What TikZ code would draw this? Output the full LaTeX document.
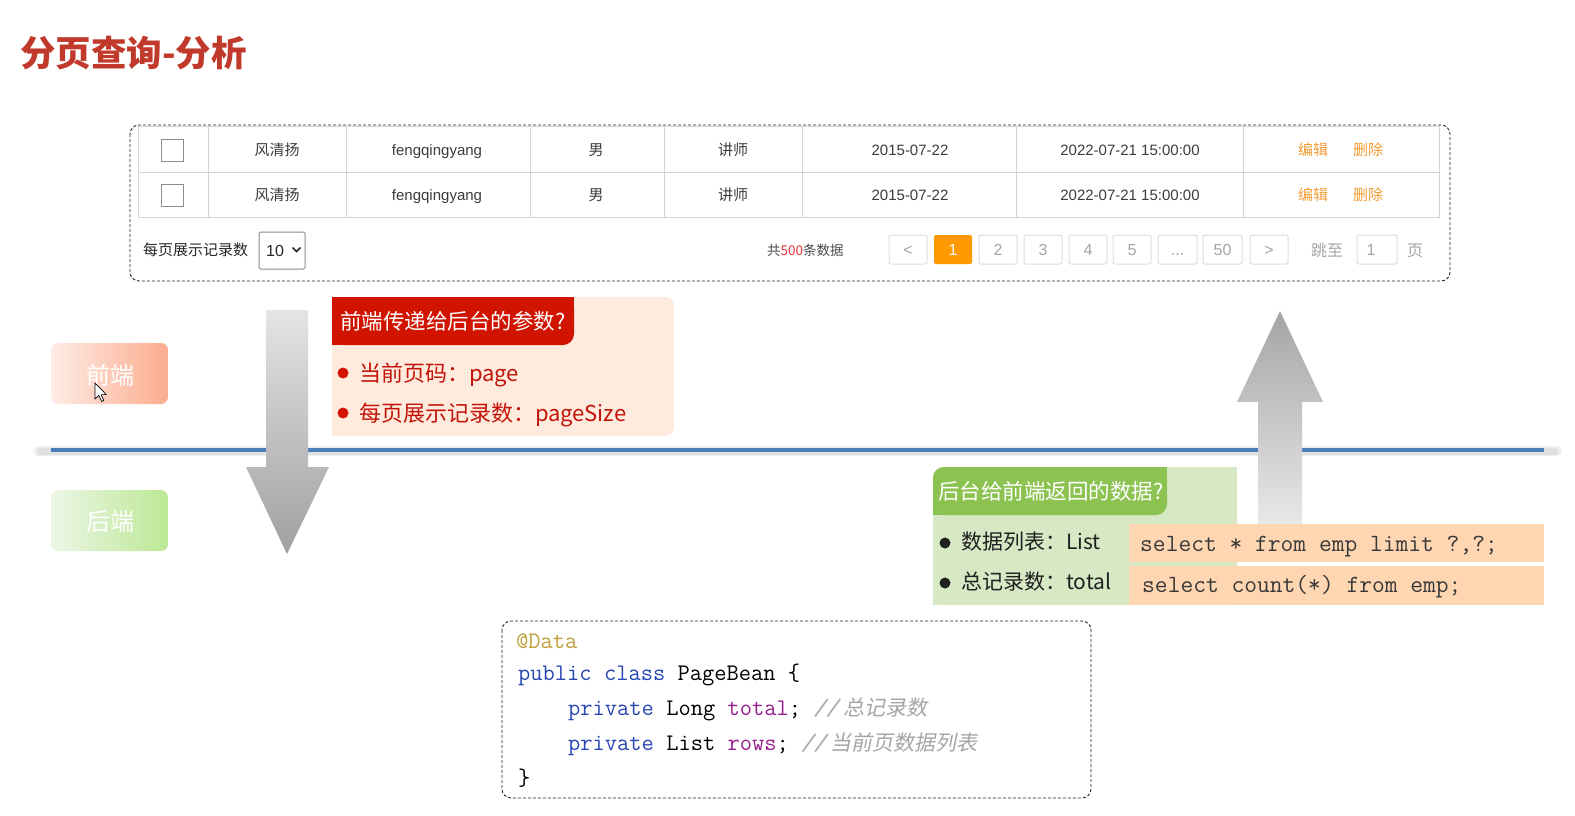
\documentclass[tikz,border=0pt]{standalone}
\usepackage{fontspec}
\setmainfont{Liberation Sans}
\setmonofont{Latin Modern Mono}
\newfontfamily\cjk{Noto Sans CJK SC}
\newfontfamily\cjkit{Noto Sans CJK SC}[FakeSlant=0.2]
\newcommand\fsz[1]{\fontsize{#1}{#1}\selectfont}
\definecolor{titlered}{RGB}{192,57,43}
\definecolor{tabline}{RGB}{212,212,212}
\definecolor{tabtext}{RGB}{60,60,60}
\definecolor{opor}{RGB}{242,156,52}
\definecolor{pggray}{RGB}{165,165,165}
\definecolor{pgborder}{RGB}{221,221,221}
\definecolor{pgorange}{RGB}{255,153,0}
\definecolor{numred}{RGB}{230,50,50}
\definecolor{blueline}{RGB}{74,126,187}
\definecolor{redhead}{RGB}{208,20,0}
\definecolor{redbg}{RGB}{255,234,222}
\definecolor{redtext}{RGB}{195,20,10}
\definecolor{greenhead}{RGB}{140,195,80}
\definecolor{greenbg}{RGB}{214,233,196}
\definecolor{sqlbg}{RGB}{255,214,178}
\definecolor{codeblue}{RGB}{40,70,180}
\definecolor{codepurple}{RGB}{150,30,140}
\definecolor{codegold}{RGB}{190,160,60}
\definecolor{codegray}{RGB}{165,165,165}
\tikzset{
  tx/.style={inner sep=0pt, text height=0.9*#1pt, text depth=0.15*#1pt, font=\fsz{#1}},
  pgbtn/.style={draw=pgborder, line width=1pt, rounded corners=2pt},
  dashbox/.style={draw=black!85, line width=0.9pt, dash pattern=on 3pt off 2pt, rounded corners=9pt},
}
\begin{document}
\begin{tikzpicture}[x=1pt,y=-1pt]
\useasboundingbox (0,0) rectangle (1575,815);
\fill[white] (0,0) rectangle (1575,815);

% title
\node[tx=35.5, anchor=west, text=titlered] (title) at (20,53) {\cjk\bfseries 分页查询-分析};

% outer dashed box
\draw[dashbox] (130,125) rectangle (1450,281);

% table
\draw[tabline, line width=1pt] (138,126) rectangle (1439,217);
\draw[tabline, line width=1pt] (138,172) -- (1439,172);
\foreach \cx in {208,346,530,664,802,1016,1243}
  \draw[tabline, line width=1pt] (\cx,126) -- (\cx,217);
\foreach \ry/\rn in {150/a,195/b}{
  \draw[draw=black!45, line width=1pt] (161,\ry-11) rectangle (183,\ry+11);
  \node[tx=15, text=tabtext] (name\rn) at (277,\ry) {\cjk 风清扬};
  \node[tx=15, text=tabtext] (user\rn) at (437,\ry) {fengqingyang};
  \node[tx=15, text=tabtext] (gender\rn) at (596,\ry) {\cjk 男};
  \node[tx=15, text=tabtext] (job\rn) at (733,\ry) {\cjk 讲师};
  \node[tx=15, text=tabtext] (date\rn) at (910,\ry) {2015-07-22};
  \node[tx=15, text=tabtext] (time\rn) at (1130,\ry) {2022-07-21 15:00:00};
  \node[tx=15, text=opor] (edit\rn) at (1313,\ry) {\cjk 编辑};
  \node[tx=15, text=opor] (del\rn) at (1368,\ry) {\cjk 删除};
}

% pagination row
\node[tx=15, anchor=west, text=black!85] (perpage) at (143,250) {\cjk 每页展示记录数};
\draw[draw=black!45, line width=1pt, rounded corners=1.5pt] (259,232) rectangle (305,269);
\node[tx=16, anchor=west, text=black!85] (sel) at (266,250) {10};
\draw[black!85, line width=1.6pt] (292.5,247.5) -- (296.5,251.5) -- (300.5,247.5);
\node[tx=13.5, anchor=west, text=black!70] (total) at (767,250) {\cjk 共\textcolor{numred}{500}条数据};
\foreach \xa/\xb/\lb/\nm in {889/927/{<}/prev,979/1017/2/p2,1024/1062/3/p3,1069/1107/4/p4,1113/1151/5/p5,1158/1197/{...}/dots,1203/1242/50/p50,1250/1288/{>}/next}{
  \draw[pgbtn] (\xa,235) rectangle (\xb,264);
  \node[tx=16, text=pggray] (\nm) at ({(\xa+\xb)/2},249.5) {\lb};
}
\fill[pgorange, rounded corners=2pt] (934,235) rectangle (972,264);
\node[tx=16, text=white] (p1) at (953,249.5) {1};
\node[tx=16, text=pggray] (jump) at (1327,250) {\cjk 跳至};
\draw[pgbtn] (1357,235) rectangle (1397,264);
\node[tx=16, text=pggray] (jumpv) at (1371,249.5) {1};
\node[tx=16, text=pggray] (ye) at (1415,250) {\cjk 页};

% front / back labels
\shade[left color={rgb,255:red,255;green,236;blue,230}, right color={rgb,255:red,251;green,172;blue,142}, rounded corners=7pt] (51,343) rectangle (168,404);
\node[tx=24, text=white] (front) at (110,375) {\cjk 前端};
\shade[left color={rgb,255:red,236;green,246;blue,230}, right color={rgb,255:red,188;green,232;blue,148}, rounded corners=7pt] (51,490) rectangle (168,551);
\node[tx=24, text=white] (back) at (110,521) {\cjk 后端};
% cursor
\draw[fill=white, draw=black, line width=0.7pt, line join=round] (95,383) -- (95,399) -- (98.8,395.4) -- (101.6,401.5) -- (103.8,400.5) -- (101.1,394.6) -- (106.3,394.6) -- cycle;

% separator line
\draw[line width=10pt, black!6, line cap=round] (38,451) -- (1557,451);
\draw[line width=7pt, black!12, line cap=round] (40,451) -- (1555,451);
\draw[line width=4pt, blueline] (51,450) -- (1544,450);

% down arrow
\shade[top color={rgb,255:red,228;green,228;blue,228}, bottom color={rgb,255:red,160;green,160;blue,160}]
  (266,310) -- (308,310) -- (308,467) -- (329,467) -- (287,554) -- (246,467) -- (266,467) -- cycle;

% red box
\fill[redbg, rounded corners=9pt] (332,297) rectangle (674,436);
\fill[redbg] (332,297) rectangle (600,436);
\fill[redhead, rounded corners=11pt] (332,297) rectangle (574,345);
\fill[redhead] (332,297) rectangle (574,320);
\fill[redhead] (332,297) rectangle (450,345);
\node[tx=21.5, anchor=west, text=white] (reqtitle) at (340,321) {\cjk 前端传递给后台的参数?};
\fill[redhead] (343,373) circle (5.5);
\node[tx=22, anchor=west, text=redtext] (page) at (359,373) {\cjk 当前页码：page};
\fill[redhead] (343,413) circle (5.5);
\node[tx=22, anchor=west, text=redtext] (psize) at (359,413) {\cjk 每页展示记录数：pageSize};

% up arrow
\shade[top color={rgb,255:red,165;green,165;blue,165}, bottom color={rgb,255:red,232;green,232;blue,232}]
  (1280,311) -- (1323,402) -- (1302,402) -- (1302,524) -- (1258,524) -- (1258,402) -- (1237,402) -- cycle;

% green box
\fill[greenbg, rounded corners=10pt] (933,467) rectangle (1237,605);
\fill[greenbg] (960,467) rectangle (1237,605);
\fill[greenbg] (933,490) rectangle (1237,605);
\fill[greenhead, rounded corners=11pt] (933,467) rectangle (1167,515);
\fill[greenhead] (1140,467) rectangle (1167,490);
\fill[greenhead] (933,491) rectangle (960,515);
\node[tx=21.5, anchor=west, text=white] (restitle) at (938,491) {\cjk 后台给前端返回的数据?};
\fill[black!88] (945,543) circle (5.5);
\node[tx=21, anchor=west, text=black!88] (list) at (961,542) {\cjk 数据列表：List};
\fill[black!88] (945,583) circle (5.5);
\node[tx=21, anchor=west, text=black!88] (tot) at (961,582) {\cjk 总记录数：total};
\fill[sqlbg] (1129,524) rectangle (1544,562);
\fill[sqlbg] (1129,566) rectangle (1544,605);
\node[tx=24.8, anchor=west, text=black!78] (sql1) at (1140,542) {\ttfamily select * from emp limit ?,?;};
\node[tx=24.8, anchor=west, text=black!78] (sql2) at (1142,583) {\ttfamily select count(*) from emp;};

% code box
\draw[dashbox] (502,621) rectangle (1091,798);
\node[tx=23.8, anchor=west, text=codegold] (c1) at (516,640) {\ttfamily @Data};
\node[tx=23.8, anchor=west, text=black] (c2) at (518,672) {\ttfamily\textcolor{codeblue}{public class} PageBean \{};
\node[tx=23.8, anchor=west, text=black] (c3) at (568,707) {\ttfamily\textcolor{codeblue}{private} Long \textcolor{codepurple}{total}; \textcolor{codegray}{\itshape //\cjkit\fsz{21} 总记录数}};
\node[tx=23.8, anchor=west, text=black] (c4) at (568,742) {\ttfamily\textcolor{codeblue}{private} List \textcolor{codepurple}{rows}; \textcolor{codegray}{\itshape //\cjkit\fsz{21} 当前页数据列表}};
\node[tx=23.8, anchor=west, text=black] (c5) at (518,777) {\ttfamily \}};
\end{tikzpicture}
\end{document}
